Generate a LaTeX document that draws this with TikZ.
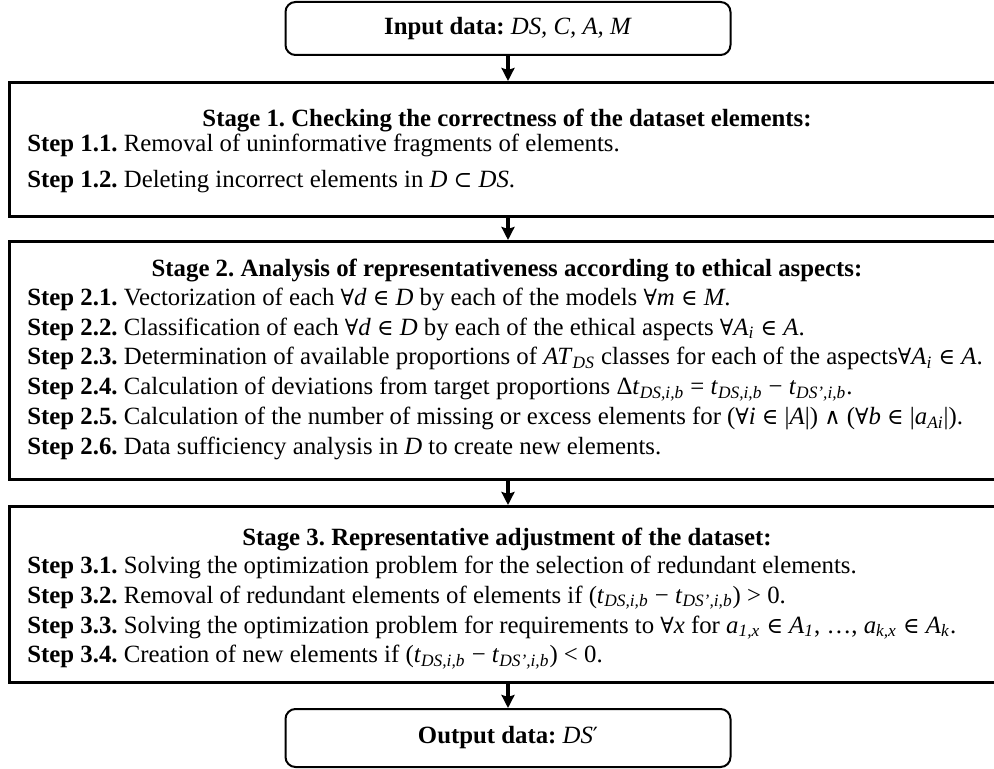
\documentclass[tikz,border=0pt]{standalone}
\usepackage{fontspec}
\setmainfont{Liberation Serif}
\newfontfamily\symf[Scale=0.9]{DejaVu Serif}
\usetikzlibrary{arrows.meta,positioning}
\frenchspacing

\newcommand{\vi}[1]{\textit{#1}}
\newcommand{\sub}[1]{\textsubscript{\textit{#1}}}
\newcommand{\fall}{{\symf ∀}}
\newcommand{\isin}{{\symf ∈}}
\newcommand{\subs}{{\symf ⊂}}
\newcommand{\conj}{{\symf ∧}}

\begin{document}
\begin{tikzpicture}[
  x=0.5pt, y=-0.5pt,
  font=\fontsize{12.4}{14.5}\selectfont,
  io/.style={
    draw,
    rounded corners=5pt,
    line width=1pt,
    minimum width=222.5pt,
    inner sep=0pt
  },
  stagebox/.style={
    draw,
    line width=1.4pt,
    minimum width=500pt,
    inner sep=0pt,
    anchor=north west
  },
  stagetitle/.style={
    font=\fontsize{12.4}{14.5}\selectfont\bfseries,
    text height=10.5pt, text depth=4pt,
    inner sep=0pt,
    anchor=north
  },
  stepline/.style={
    text height=10.5pt, text depth=4pt,
    inner sep=0pt,
    anchor=north west
  },
  stepnext/.style={stepline, below=0pt of #1.south west, anchor=north west},
  flow/.style={-{Stealth[length=6.5pt, width=6.5pt, inset=1pt]}, line width=1.6pt}
]
\useasboundingbox (0,0) rectangle (994,769);
\clip (0,0) rectangle (994,769);

\node[io, minimum height=26.5pt] (input) at (508,28.5)
  {\textbf{Input data:} \vi{DS, C, A, M}};

% Stage 1
\node[stagebox, minimum height=67pt] (stage1) at (8,81) {};
\node[stagetitle] (title1) at (507,105)
  {Stage 1. Checking the correctness of the dataset elements:};
\node[stepline] (s11) at (27,130)
  {\textbf{Step 1.1.} Removal of uninformative fragments of elements.};
\node[stepline, below=3pt of s11.south west, anchor=north west] (s12)
  {\textbf{Step 1.2.} Deleting incorrect elements in \vi{D} \subs{} \vi{DS}.};

% Stage 2
\node[stagebox, minimum height=119pt] (stage2) at (8,240) {};
\node[stagetitle] (title2) at (507,255)
  {Stage 2. Analysis of representativeness according to ethical aspects:};
\node[stepline] (s21) at (27,284)
  {\textbf{Step 2.1.} Vectorization of each \fall\vi{d} \isin{} \vi{D} by each of the models \fall\vi{m} \isin{} \vi{M}.};
\node[stepnext=s21] (s22)
  {\textbf{Step 2.2.} Classification of each \fall\vi{d} \isin{} \vi{D} by each of the ethical aspects \fall\vi{A}\sub{i} \isin{} \vi{A}.};
\node[stepnext=s22] (s23)
  {\textbf{Step 2.3.} Determination of available proportions of \vi{AT}\sub{DS} classes for each of the aspects\fall\vi{A}\sub{i} \isin{} \vi{A}.};
\node[stepnext=s23] (s24)
  {\textbf{Step 2.4.} Calculation of deviations from target proportions Δ\vi{t}\sub{DS,i,b} = \vi{t}\sub{DS,i,b} − \vi{t}\sub{DS',i,b}.};
\node[stepnext=s24] (s25)
  {\textbf{Step 2.5.} Calculation of the number of missing or excess elements for (\fall\vi{i} \isin{} |\vi{A}|) \conj{} (\fall\vi{b} \isin{} |\vi{a}\sub{Ai}|).};
\node[stepnext=s25] (s26)
  {\textbf{Step 2.6.} Data sufficiency analysis in \vi{D} to create new elements.};

% Stage 3
\node[stagebox, minimum height=88pt] (stage3) at (8,505) {};
\node[stagetitle] (title3) at (507,524)
  {Stage 3. Representative adjustment of the dataset:};
\node[stepline] (s31) at (27,552)
  {\textbf{Step 3.1.} Solving the optimization problem for the selection of redundant elements.};
\node[stepnext=s31] (s32)
  {\textbf{Step 3.2.} Removal of redundant elements of elements if (\vi{t}\sub{DS,i,b} − \vi{t}\sub{DS',i,b}) > 0.};
\node[stepnext=s32] (s33)
  {\textbf{Step 3.3.} Solving the optimization problem for requirements to \fall\vi{x} for \vi{a}\sub{1,x} \isin{} \vi{A}\sub{1}, …, \vi{a}\sub{k,x} \isin{} \vi{A}\sub{k}.};
\node[stepnext=s33] (s34)
  {\textbf{Step 3.4.} Creation of new elements if (\vi{t}\sub{DS,i,b} − \vi{t}\sub{DS',i,b}) < 0.};

\node[io, minimum height=29pt] (output) at (508,738)
  {\textbf{Output data:} \vi{DS}{\symf ′}};

\draw[flow] (input.south) -- (input.south |- stage1.north);
\draw[flow] (stage1.south -| input.south) -- (stage2.north -| input.south);
\draw[flow] (stage2.south -| input.south) -- (stage3.north -| input.south);
\draw[flow] (stage3.south -| input.south) -- (output.north);
\end{tikzpicture}
\end{document}
